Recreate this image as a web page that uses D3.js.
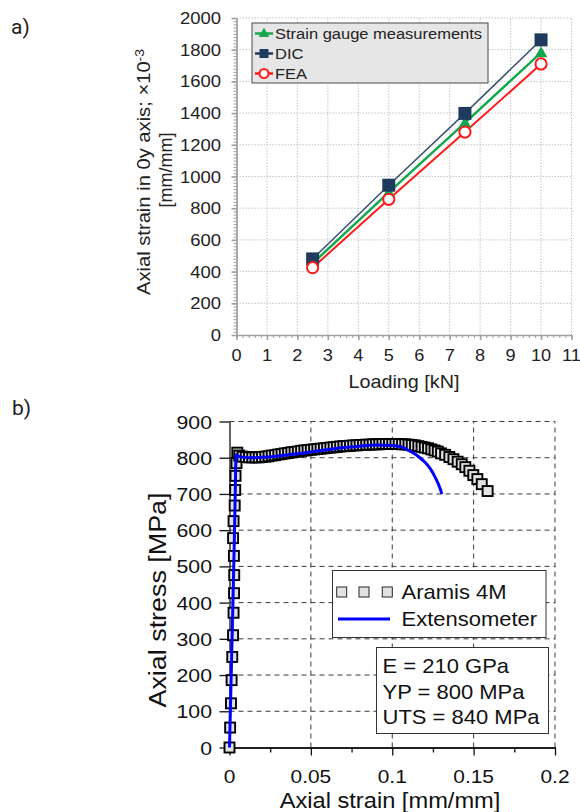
<!DOCTYPE html>
<html><head><meta charset="utf-8">
<script src="https://cdn.jsdelivr.net/npm/d3@7"></script>
<style>html,body{margin:0;padding:0;background:#fff}</style>
</head><body><svg id="c" width="580" height="812"></svg>
<script>
// ---------- chart a data ----------
const loadKN = [2.5, 5, 7.5, 10];
const strainGauge = [452, 900, 1338, 1782];
const dicStrain = [480, 945, 1398, 1862];
const feaStrain = [425, 856, 1280, 1710];
const aXTicks = [0, 1, 2, 3, 4, 5, 6, 7, 8, 9, 10, 11];
const aYTicks = [0, 200, 400, 600, 800, 1000, 1200, 1400, 1600, 1800, 2000];
const aSeriesNames = ["Strain gauge measurements", "DIC", "FEA"];

// ---------- chart b data ----------
const aramisStrain = [0, 0.0004, 0.0009, 0.0013, 0.0017, 0.0022, 0.0025, 0.0028, 0.0029, 0.0027, 0.0022, 0.0025, 0.0032, 0.0035, 0.0037, 0.0043, 0.0048,
  0.006, 0.008, 0.010, 0.012, 0.014, 0.016, 0.018, 0.020, 0.022, 0.024, 0.026, 0.028, 0.030, 0.032, 0.034, 0.036, 0.038, 0.040, 0.042, 0.044,
  0.046, 0.048, 0.050, 0.052, 0.054, 0.056, 0.058, 0.060, 0.062, 0.064, 0.066, 0.068, 0.070, 0.072, 0.074, 0.076, 0.078, 0.080, 0.082, 0.084,
  0.086, 0.088, 0.090, 0.092, 0.094, 0.096, 0.098, 0.100, 0.102, 0.104, 0.106, 0.108, 0.110, 0.112, 0.114, 0.116, 0.118, 0.120, 0.122, 0.124,
  0.126, 0.128, 0.130, 0.1325, 0.1351, 0.1376, 0.1402, 0.1427, 0.1449, 0.1474, 0.1498, 0.1523, 0.1550, 0.1586];
const aramisStress = [0, 55, 122, 186, 250, 310, 372, 426, 476, 529, 578, 625, 668, 711, 750, 785, 814,
  806, 803, 802, 801, 801, 801, 801, 802, 803, 804, 806, 807, 809, 810, 812, 813, 815, 816, 817, 819,
  820, 821, 822, 823, 824, 825, 826, 827, 828, 829, 830, 831, 832, 832, 833, 834, 834, 835, 835, 836,
  836, 837, 837, 837, 838, 838, 838, 838, 838, 838, 837, 837, 836, 835, 834, 832, 830, 828, 826, 823,
  820, 817, 812, 808, 802, 796, 789, 782, 774, 764, 752, 741, 727, 708];
const extStrain = [0, 0.001, 0.002, 0.003, 0.0036, 0.004, 0.006, 0.012, 0.02, 0.03, 0.04, 0.05, 0.06, 0.07, 0.08, 0.09, 0.1, 0.106, 0.11, 0.114, 0.117, 0.12, 0.123, 0.125, 0.127, 0.129, 0.1305];
const extStress = [0, 190, 380, 580, 720, 808, 803, 800, 801, 805, 810, 816, 822, 828, 832, 835, 834, 829, 820, 810, 800, 788, 772, 758, 740, 720, 700];
const bXTicks = [0, 0.05, 0.1, 0.15, 0.2];
const bYTicks = [0, 100, 200, 300, 400, 500, 600, 700, 800, 900];
const bSeriesNames = ["Aramis 4M", "Extensometer"];
const bStats = ["E = 210 GPa", "YP = 800 MPa", "UTS = 840 MPa"];

// ---------- helpers ----------
const FONT = "'Liberation Sans', Arial, Helvetica, sans-serif";
const svg = d3.select("#c");
svg.append("rect").attr("width", 580).attr("height", 812).attr("fill", "#fff");
function txt(g, x, y, s, o = {}) {
  return g.append("text")
    .attr("transform", `translate(${x},${y})${o.rot ? ` rotate(${o.rot})` : ""} scale(${o.sx || 1},1)`)
    .attr("text-anchor", o.anchor || "start")
    .attr("font-size", (o.size || 16))
    .attr("font-family", o.family || FONT)
    .attr("fill", o.fill || "#111")
    .text(s);
}

// =================== CHART A ===================
const ga = svg.append("g");
const xA = d3.scaleLinear().domain([0, 11]).range([236.5, 571.5]);
const yA = d3.scaleLinear().domain([0, 2000]).range([335, 18]);

// grid
ga.append("g").selectAll("line").data(aXTicks.slice(1)).join("line")
  .attr("x1", d => xA(d)).attr("x2", d => xA(d)).attr("y1", yA(0)).attr("y2", yA(2000))
  .attr("stroke", "#c4c4c4").attr("stroke-width", 1).attr("stroke-dasharray", "1.5,1.5");
ga.append("g").selectAll("line").data(aYTicks.slice(1)).join("line")
  .attr("y1", d => yA(d)).attr("y2", d => yA(d)).attr("x1", xA(0)).attr("x2", xA(11))
  .attr("stroke", "#c4c4c4").attr("stroke-width", 1).attr("stroke-dasharray", "1.5,1.5");

// axes
function styleAxis(sel, col, w) {
  sel.selectAll("path,line").attr("stroke", col).attr("stroke-width", w);
  sel.selectAll("text").remove();
}
ga.append("g").attr("transform", `translate(0,${yA(0)})`)
  .call(d3.axisBottom(xA).tickValues(d3.range(0, 11.001, 0.2)).tickSize(3).tickSizeOuter(0))
  .call(s => styleAxis(s, "#a0a0a0", 1));
ga.append("g").attr("transform", `translate(0,${yA(0)})`)
  .call(d3.axisBottom(xA).tickValues(aXTicks).tickSize(5).tickSizeOuter(0))
  .call(s => styleAxis(s, "#a0a0a0", 1.6));
ga.append("g").attr("transform", `translate(${xA(0)},0)`)
  .call(d3.axisLeft(yA).tickValues(d3.range(0, 2000.1, 20)).tickSize(3).tickSizeOuter(0))
  .call(s => styleAxis(s, "#a0a0a0", 1));
ga.append("g").attr("transform", `translate(${xA(0)},0)`)
  .call(d3.axisLeft(yA).tickValues(aYTicks).tickSize(5).tickSizeOuter(0))
  .call(s => styleAxis(s, "#a0a0a0", 1.6));

aXTicks.forEach(v => txt(ga, xA(v), 361, String(v), { size: 16.5, anchor: "middle", sx: 1.1, fill: "#222" }));
aYTicks.forEach(v => txt(ga, 221, yA(v) + 6, String(v), { size: 16.5, anchor: "end", sx: 1.12, fill: "#222" }));

txt(ga, 404, 388, "Loading [kN]", { size: 18, anchor: "middle", sx: 1.1, fill: "#222" });
const yt = txt(ga, 150, 172, "Axial strain in 0y axis; ×10", { size: 18, anchor: "middle", sx: 1.12, rot: -90, fill: "#222" });
yt.append("tspan").attr("dy", "-0.45em").attr("font-size", 12.5).text("-3");
txt(ga, 172, 170, "[mm/mm]", { size: 18, anchor: "middle", sx: 1.0, rot: -90, fill: "#222" });

// series
const colGreen = "#14a74c", colNavy = "#1e3a5c", colRed = "#ff1a1a";
const lineA = d3.line().x(d => xA(d[0])).y(d => yA(d[1]));
const seriesA = [
  { vals: strainGauge, col: colGreen, w: 2.5, lineCol: colGreen },
  { vals: dicStrain, col: colNavy, w: 1.5, lineCol: "#3a5272" },
  { vals: feaStrain, col: colRed, w: 2, lineCol: colRed }
];
seriesA.forEach(s => {
  ga.append("path").attr("d", lineA(loadKN.map((x, i) => [x, s.vals[i]])))
    .attr("fill", "none").attr("stroke", s.lineCol).attr("stroke-width", s.w);
});
// markers
ga.append("g").selectAll("path").data(loadKN).join("path")
  .attr("transform", (d, i) => `translate(${xA(d)},${yA(strainGauge[i]) + 1})`)
  .attr("d", d3.symbol(d3.symbolTriangle, 70)).attr("fill", colGreen);
ga.append("g").selectAll("rect").data(loadKN).join("rect")
  .attr("x", d => xA(d) - 6.5).attr("y", (d, i) => yA(dicStrain[i]) - 6.5)
  .attr("width", 13).attr("height", 13).attr("fill", colNavy);
ga.append("g").selectAll("circle").data(loadKN).join("circle")
  .attr("cx", d => xA(d)).attr("cy", (d, i) => yA(feaStrain[i])).attr("r", 5.6)
  .attr("fill", "#fff").attr("stroke", colRed).attr("stroke-width", 2);

// legend a
const la = ga.append("g");
la.append("rect").attr("x", 252).attr("y", 23).attr("width", 236).attr("height", 60)
  .attr("fill", "#e6e6e6").attr("stroke", "#4a4a4a").attr("stroke-width", 1);
const legRows = [33.5, 53.5, 73.5];
aSeriesNames.forEach((n, i) => {
  const y = legRows[i];
  la.append("line").attr("x1", 255).attr("x2", 273).attr("y1", y).attr("y2", y)
    .attr("stroke", seriesA[i].col).attr("stroke-width", 2.5);
  if (i === 0) la.append("path").attr("transform", `translate(264,${y + 0.5})`).attr("d", d3.symbol(d3.symbolTriangle, 50)).attr("fill", colGreen);
  if (i === 1) la.append("rect").attr("x", 259.5).attr("y", y - 4.5).attr("width", 9).attr("height", 9).attr("fill", colNavy);
  if (i === 2) la.append("circle").attr("cx", 264).attr("cy", y).attr("r", 4.5).attr("fill", "#fff").attr("stroke", colRed).attr("stroke-width", 2);
  txt(la, 275, y + 5.5, n, { size: 15, sx: 1.1, fill: "#222" });
});

txt(svg, 11, 34, "a)", { size: 21, family: "Roboto, sans-serif", fill: "#222" });
txt(svg, 12, 415, "b)", { size: 21, family: "Roboto, sans-serif", fill: "#222" });

// =================== CHART B ===================
const gb = svg.append("g");
const xB = d3.scaleLinear().domain([0, 0.2]).range([229.5, 555]);
const yB = d3.scaleLinear().domain([0, 900]).range([747.5, 421.5]);

// grid dashed
gb.append("g").selectAll("line").data(bXTicks.slice(1)).join("line")
  .attr("x1", d => xB(d)).attr("x2", d => xB(d)).attr("y1", yB(0)).attr("y2", yB(900))
  .attr("stroke", "#3a3a3a").attr("stroke-width", 1).attr("stroke-dasharray", "5,4");
gb.append("g").selectAll("line").data(bYTicks.slice(1)).join("line")
  .attr("y1", d => yB(d)).attr("y2", d => yB(d)).attr("x1", xB(0)).attr("x2", xB(0.2))
  .attr("stroke", "#3a3a3a").attr("stroke-width", 1).attr("stroke-dasharray", "5,4");

// axes
gb.append("g").attr("transform", `translate(0,${yB(0)})`)
  .call(d3.axisBottom(xB).tickValues([0.025, 0.075, 0.125, 0.175]).tickSize(5).tickSizeOuter(0))
  .call(s => styleAxis(s, "#111", 1.3));
gb.append("g").attr("transform", `translate(0,${yB(0)})`)
  .call(d3.axisBottom(xB).tickValues(bXTicks).tickSize(8).tickSizeOuter(0))
  .call(s => styleAxis(s, "#111", 1.3));
gb.append("g").attr("transform", `translate(${xB(0)},0)`)
  .call(d3.axisLeft(yB).tickValues(bYTicks).tickSize(10).tickSizeOuter(0))
  .call(s => styleAxis(s, "#111", 1.3));

bXTicks.forEach(v => txt(gb, xB(v), 783, String(v), { size: 19, anchor: "middle", sx: 1.1 }));
bYTicks.forEach(v => txt(gb, 212, yB(v) + 7, String(v), { size: 19, anchor: "end", sx: 1.12 }));
txt(gb, 390, 808, "Axial strain [mm/mm]", { size: 21.5, anchor: "middle", sx: 1.1 });
txt(gb, 166, 600, "Axial stress [MPa]", { size: 24, anchor: "middle", sx: 1.12, rot: -90 });

// Aramis squares
gb.append("g").selectAll("rect").data(aramisStrain).join("rect")
  .attr("x", d => xB(d) - 5).attr("y", (d, i) => yB(aramisStress[i]) - 5)
  .attr("width", 10).attr("height", 10)
  .attr("fill", "#e2e2e2").attr("stroke", "#000").attr("stroke-width", 1.9);

// Extensometer
gb.append("path")
  .attr("d", d3.line().x(d => xB(d[0])).y(d => yB(d[1])).curve(d3.curveMonotoneX)(extStrain.map((x, i) => [x, extStress[i]])))
  .attr("fill", "none").attr("stroke", "#0000ff").attr("stroke-width", 3);

// legend b
const lb = gb.append("g");
lb.append("rect").attr("x", 332.5).attr("y", 570.5).attr("width", 213.5).attr("height", 67)
  .attr("fill", "#fff").attr("stroke", "#333").attr("stroke-width", 1);
[341.7, 364, 387.3].forEach(x => lb.append("rect").attr("x", x - 5).attr("y", 587).attr("width", 10).attr("height", 10)
  .attr("fill", "#e2e2e2").attr("stroke", "#262626").attr("stroke-width", 1));
lb.append("line").attr("x1", 338).attr("x2", 390).attr("y1", 619).attr("y2", 619).attr("stroke", "#0000ff").attr("stroke-width", 3);
txt(lb, 401.5, 599, bSeriesNames[0], { size: 20, sx: 1.1 });
txt(lb, 401.5, 626, bSeriesNames[1], { size: 20, sx: 1.1 });

// stats box
const sb = gb.append("g");
sb.append("rect").attr("x", 376.5).attr("y", 647.5).attr("width", 172).attr("height", 86)
  .attr("fill", "#fff").attr("stroke", "#333").attr("stroke-width", 1);
bStats.forEach((s, i) => txt(sb, 382.5, 673 + i * 25.5, s, { size: 20, sx: 1.1 }));
</script></body></html>
